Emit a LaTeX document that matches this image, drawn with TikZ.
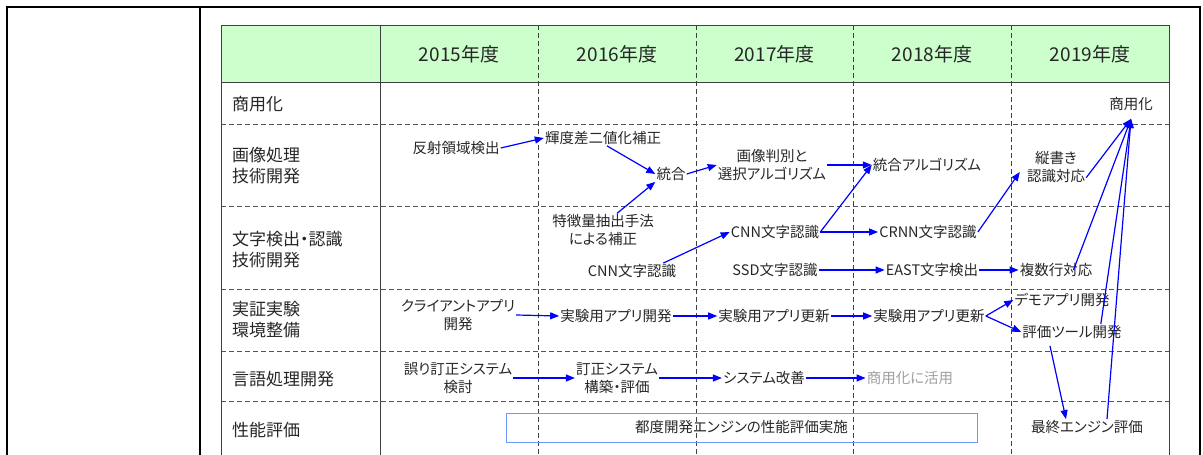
\documentclass[tikz,border=0pt]{standalone}
\usepackage{fontspec}
\setmainfont{Noto Sans CJK JP}[RawFeature={+palt}]
\usetikzlibrary{arrows.meta}
\definecolor{txt}{HTML}{262626}
\definecolor{graytxt}{HTML}{A0A0A0}
\definecolor{hdrgreen}{HTML}{CCFFCC}
\definecolor{arrblue}{HTML}{0000FF}
\definecolor{boxblue}{HTML}{6E96FF}
\definecolor{tblline}{HTML}{404040}
\definecolor{sepgray}{HTML}{555555}
\begin{document}
\begin{tikzpicture}[x=1pt,y=-1pt,
  font=\fontsize{14.5}{17.5}\selectfont,
  lbl/.style={anchor=west,align=left,inner sep=0pt,text=txt,font=\fontsize{17}{21}\selectfont},
  hdr/.style={inner sep=0pt,text=txt,font=\fontsize{19}{23}\selectfont},
  itm/.style={align=center,inner sep=1pt,text=txt},
  arr/.style={draw=arrblue,line width=1.2pt,-{Triangle[length=9pt,width=7pt]}},
  frameline/.style={line width=2.2pt,draw=black},
  tbl/.style={line width=1pt,draw=tblline},
  rowsep/.style={line width=0.8pt,draw=sepgray,dash pattern=on 5pt off 3pt},
  colsep/.style={line width=0.8pt,draw=tblline,dash pattern=on 5pt off 3pt}]
\useasboundingbox (0,0) rectangle (1203,455);
% outer frame
\draw[frameline] (7,460) -- (7,7) -- (1200,7) -- (1200,460);
\draw[frameline] (200,7) -- (200,460);
% table
\fill[hdrgreen] (221,25) rectangle (1169,82);
\foreach \y in {124,206,289,351,401} \draw[rowsep] (221,\y) -- (1169,\y);
\foreach \x in {538,696,853,1011} \draw[colsep] (\x,25) -- (\x,460);
\draw[tbl] (221,460) -- (221,25) -- (1169,25) -- (1169,460);
\draw[tbl] (221,82) -- (1169,82);
\draw[tbl] (380,25) -- (380,460);
% header
\node[hdr] (h15) at (459,54) {2015年度};
\node[hdr] (h16) at (617,54) {2016年度};
\node[hdr] (h17) at (774.5,54) {2017年度};
\node[hdr] (h18) at (932,54) {2018年度};
\node[hdr] (h19) at (1090,54) {2019年度};
% row labels
\node[lbl] (r0) at (232,104) {商用化};
\node[lbl] (r1) at (232,166) {画像処理\\技術開発};
\node[lbl] (r2) at (232,250) {文字検出・認識\\技術開発};
\node[lbl] (r3) at (232,320) {実証実験\\環境整備};
\node[lbl] (r4) at (232,379) {言語処理開発};
\node[lbl] (r5) at (232,430) {性能評価};
% items
\node[itm] (shoyo) at (1131,104) {商用化};
\node[itm] (hansha) at (456,148) {反射領域検出};
\node[itm] (kido) at (603,138) {輝度差二値化補正};
\node[itm] (togo) at (671,174) {統合};
\node[itm] (gazo) at (772,165) {画像判別と\\選択アルゴリズム};
\node[itm] (togoalg) at (927,165) {統合アルゴリズム};
\node[itm] (tate) at (1056,167) {縦書き\\認識対応};
\node[itm] (tokucho) at (603,230) {特徴量抽出手法\\による補正};
\node[itm] (cnn1) at (632,271) {CNN文字認識};
\node[itm] (cnn2) at (775,232) {CNN文字認識};
\node[itm] (ssd) at (775,270) {SSD文字認識};
\node[itm] (crnn) at (928,232) {CRNN文字認識};
\node[itm] (east) at (932,270) {EAST文字検出};
\node[itm] (fukusu) at (1056,270) {複数行対応};
\node[itm] (client) at (458,315) {クライアントアプリ\\開発};
\node[itm] (jikken1) at (616,316) {実験用アプリ開発};
\node[itm] (koshin1) at (774,316) {実験用アプリ更新};
\node[itm] (koshin2) at (929,316) {実験用アプリ更新};
\node[itm] (demo) at (1062,300) {デモアプリ開発};
\node[itm] (hyoka) at (1072,332) {評価ツール開発};
\node[itm] (ayamari) at (458,378) {誤り訂正システム\\検討};
\node[itm] (teisei) at (617,378) {訂正システム\\構築・評価};
\node[itm] (kaizen) at (764,378) {システム改善};
\node[itm,text=graytxt] (katsuyo) at (910,378) {商用化に活用};
\node[itm,draw=boxblue,line width=1pt,minimum width=471pt,minimum height=29pt] (tsudo) at (741.5,427.5) {都度開発エンジンの性能評価実施};
\node[itm] (saishu) at (1087,427) {最終エンジン評価};
% arrows
\draw[arr] (hansha.east) -- (kido.west);
\draw[arr] ([xshift=4pt]kido.south) -- (togo.west);
\draw[arr] ([xshift=14pt]tokucho.north) -- (togo.south west);
\draw[arr] (togo.east) -- (gazo.west);
\draw[arr] (gazo.east) -- (togoalg.west);
\draw[arr] (cnn2.east) -- (togoalg.west);
\draw[arr] (cnn2.east) -- (crnn.west);
\draw[arr] ([xshift=-14pt]cnn1.north east) -- (cnn2.west);
\draw[arr] (ssd.east) -- (east.west);
\draw[arr] (east.east) -- (fukusu.west);
\draw[arr] (crnn.east) -- ([xshift=-6pt,yshift=-5pt]tate.west);
\draw[arr] ([yshift=6pt]tate.south east) -- ([yshift=-7pt]shoyo.south);
\draw[arr] ([xshift=-20pt]fukusu.east) -- ([yshift=-7pt]shoyo.south);
\draw[arr] ([xshift=-22pt]hyoka.north east) -- ([yshift=-7pt]shoyo.south);
\draw[arr] ([xshift=20pt]saishu.north) -- ([yshift=-7pt]shoyo.south);
\draw[arr] (client.east) -- (jikken1.west);
\draw[arr] (jikken1.east) -- (koshin1.west);
\draw[arr] (koshin1.east) -- (koshin2.west);
\draw[arr] (koshin2.east) -- (demo.west);
\draw[arr] (koshin2.east) -- (hyoka.west);
\draw[arr] ([xshift=-22pt,yshift=-6pt]hyoka.south) -- ([xshift=-21pt]saishu.north);
\draw[arr] (ayamari.east) -- (teisei.west);
\draw[arr] (teisei.east) -- (kaizen.west);
\draw[arr] (kaizen.east) -- (katsuyo.west);
\end{tikzpicture}
\end{document}
